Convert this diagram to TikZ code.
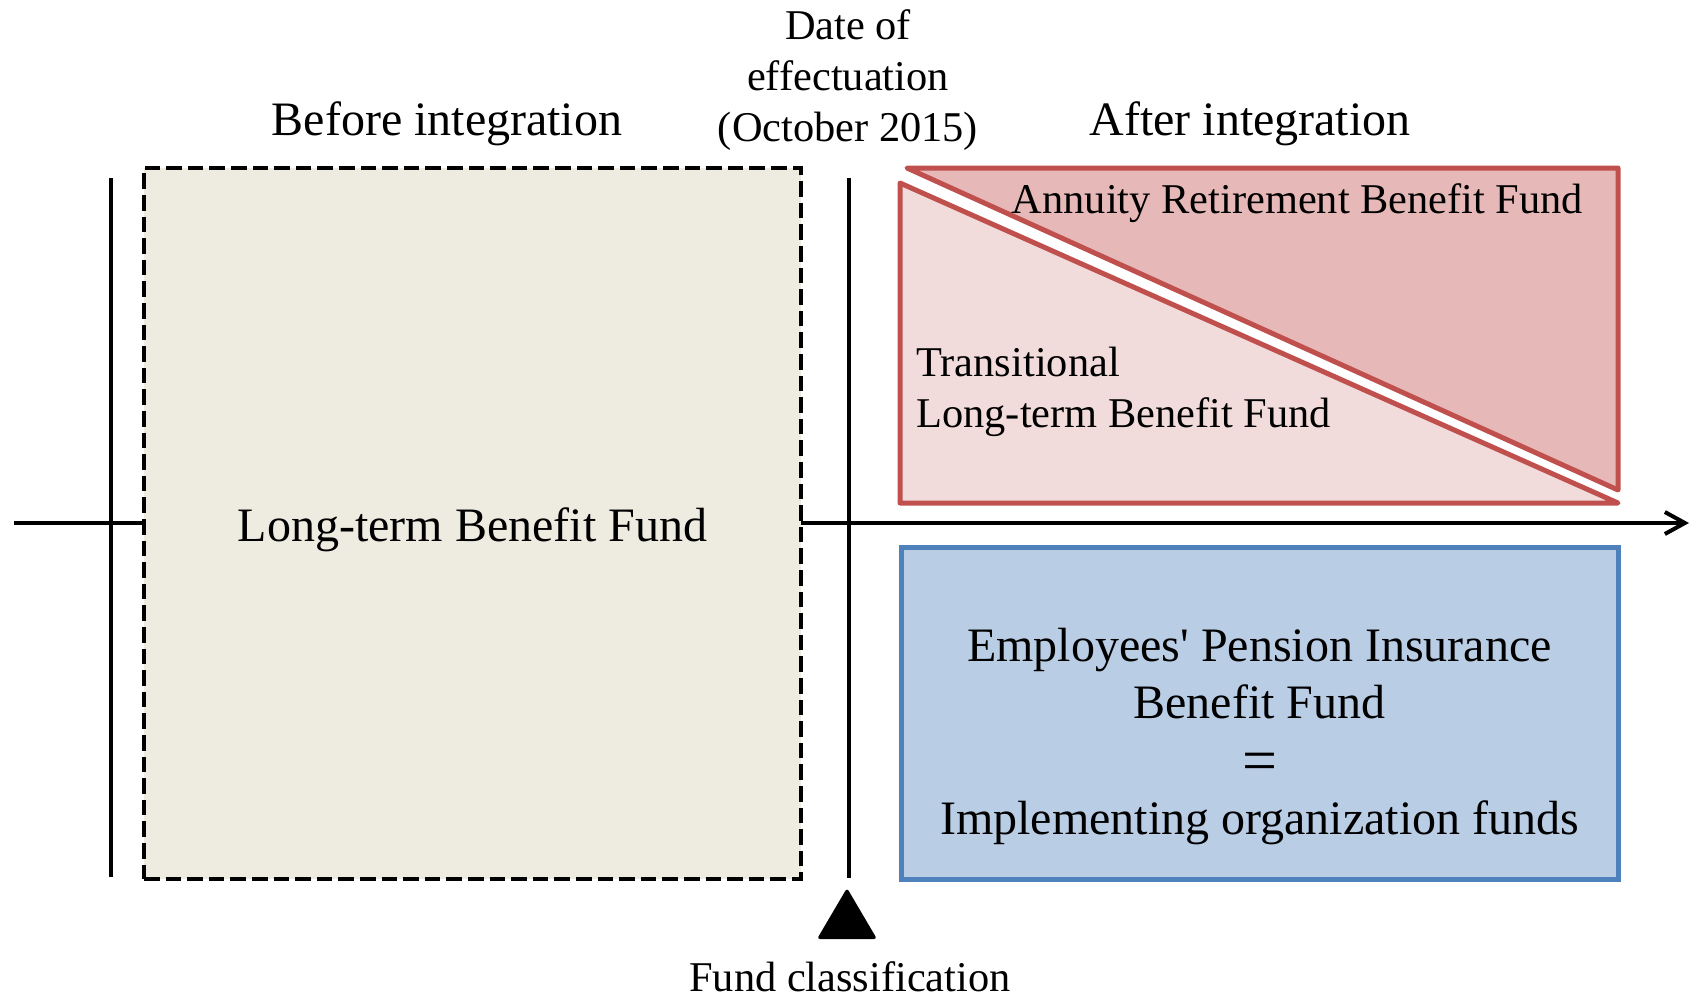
\documentclass[tikz,border=0pt]{standalone}
\usepackage{fontspec}
\setmainfont{Liberation Serif}
\usetikzlibrary{arrows.meta,calc}
\definecolor{fundbeige}{HTML}{EEECE1}
\definecolor{annuityred}{HTML}{C0504D}
\definecolor{annuityfill}{HTML}{E6B9B8}
\definecolor{transfill}{HTML}{F2DCDB}
\definecolor{pensionblue}{HTML}{4F81BD}
\definecolor{pensionfill}{HTML}{B9CDE5}
\newcommand{\headfont}{\fontsize{24}{28.5}\selectfont}
\newcommand{\notefont}{\fontsize{21.2}{25.3}\selectfont}
\tikzset{
  timeline/.style={line width=2pt,draw=black},
  axisarrow/.style={timeline,-{Straight Barb[length=10pt,width=11pt]}},
  oldfund/.style={draw=black,fill=fundbeige,line width=2.4pt,dash pattern=on 7.8pt off 3pt,
    minimum width=328.5pt,minimum height=355.5pt,font=\headfont,inner sep=0pt},
  newfund/.style={draw=pensionblue,fill=pensionfill,line width=2.5pt,
    minimum width=358.5pt,minimum height=166pt,inner sep=0pt},
  redpart/.style={draw=annuityred,line width=2.5pt,line join=round},
  headlabel/.style={font=\headfont,align=center,inner sep=0pt},
  notelabel/.style={font=\notefont,align=center,inner sep=0pt}
}

\begin{document}
\begin{tikzpicture}[x=0.5pt,y=-0.5pt]
  \useasboundingbox (0,0) rectangle (1692,996);
  % time axis and the two markers
  \coordinate (axisL) at (14,523);
  \coordinate (axisR) at (1689,523);
  \coordinate (startT) at (111,178);
  \coordinate (startB) at (111,877);
  \coordinate (dateT) at (849,178);
  \coordinate (dateB) at (849,878);
  \draw[axisarrow] (axisL) -- (axisR);
  \draw[timeline] (startT) -- (startB);
  \draw[timeline] (dateT) -- (dateB);
  % before integration
  \node[oldfund] (longterm) at (472.5,523.5) {};
  \node[headlabel] (longtext) at ($(longterm.center)+(0,6)$) {Long-term Benefit Fund};
  % after integration
  \filldraw[redpart,fill=annuityfill] (907,168) -- (1618,168) -- (1618,490) -- cycle;
  \filldraw[redpart,fill=transfill] (900,183) -- (900,503) -- (1618,503) -- cycle;
  \node[notelabel] (annuity) at (1297.5,203) {Annuity Retirement Benefit Fund};
  \node[notelabel,align=left,anchor=west] (transitional) at (916,392) {Transitional\\Long-term Benefit Fund};
  \node[newfund] (pension) at (1259.5,713) {};
  \node[headlabel] (pensiontext) at ($(pension.center)+(0,24)$)
    {Employees\textquotesingle{} Pension Insurance\\Benefit Fund\\
     \raisebox{-3pt}{\fontsize{31}{28.5}\selectfont =}\\[1pt]Implementing organization funds};
  % labels
  \node[headlabel] (before) at (447,124) {Before integration};
  \node[headlabel] (after) at (1250,124) {After integration};
  \node[notelabel] (date) at (848,80) {Date of\\effectuation\\(October 2015)};
  \fill[rounded corners=1.5pt] (847,888) -- (877,939) -- (817,939) -- cycle;
  \node[notelabel] (classify) at (850,977) {Fund classification};
\end{tikzpicture}
\end{document}
